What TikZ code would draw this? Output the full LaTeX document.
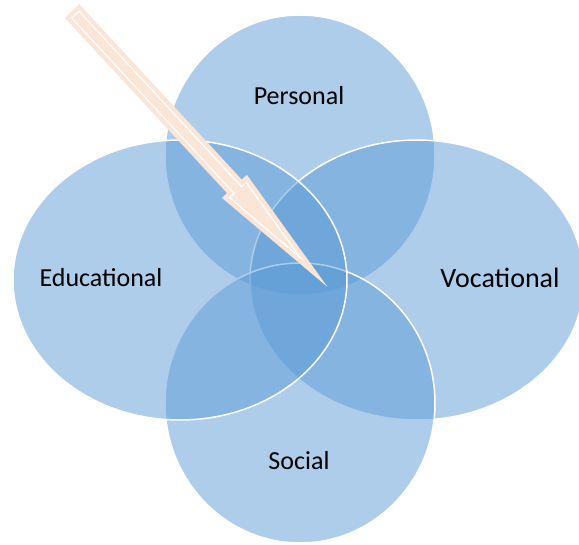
\documentclass[tikz,border=0pt]{standalone}
\usepackage{fontspec}
\setmainfont{Carlito}
\usetikzlibrary{positioning, shapes.geometric}

\definecolor{vennblue}{HTML}{5B9BD5}
\definecolor{peach}{HTML}{FBE5D6}

\tikzset{
  venn/.style={ellipse, draw=white, line width=1.5pt, fill=vennblue, fill opacity=0.5, inner sep=0pt},
  lbl/.style={font=\fontsize{26}{30}\selectfont, anchor=base}
}

\begin{document}
\begin{tikzpicture}[x=1pt, y=-1pt]
        \useasboundingbox (0,0) rectangle (579,545);
        \clip (0,0) rectangle (579,545);

        \node[venn, minimum width=270pt, minimum height=280pt] (P) at (300,155) {};
        \node[venn, minimum width=334pt, minimum height=280pt] (V) at (417,280) {};
        \node[venn, minimum width=270pt, minimum height=280pt] (S) at (300,403) {};
        \node[venn, minimum width=334pt, minimum height=280pt] (E) at (180,280) {};

        \node[lbl] (Plbl) at (299,105) {Personal};
        \node[lbl] (Elbl) at (101,287) {Educational};
        \node[lbl, font=\fontsize{28}{32}\selectfont] (Vlbl) at (500,288) {Vocational};
        \node[lbl] (Slbl) at (299,470) {Social};

        % block arrow
        \begin{scope}[shift={(72,11)}, rotate=-47.2]
            \fill[peach] (0,-10) -- (239,-10) -- (239,-17) -- (376,0) -- (239,17) -- (239,10) -- (0,10) -- cycle;
            \draw[white, line width=1.2pt] (5,-5) -- (244,-5) -- (244,-11.3) -- (336,0) -- (244,11.3) -- (244,5) -- (5,5) -- cycle;
        \end{scope}
    \end{tikzpicture}
\end{document}
